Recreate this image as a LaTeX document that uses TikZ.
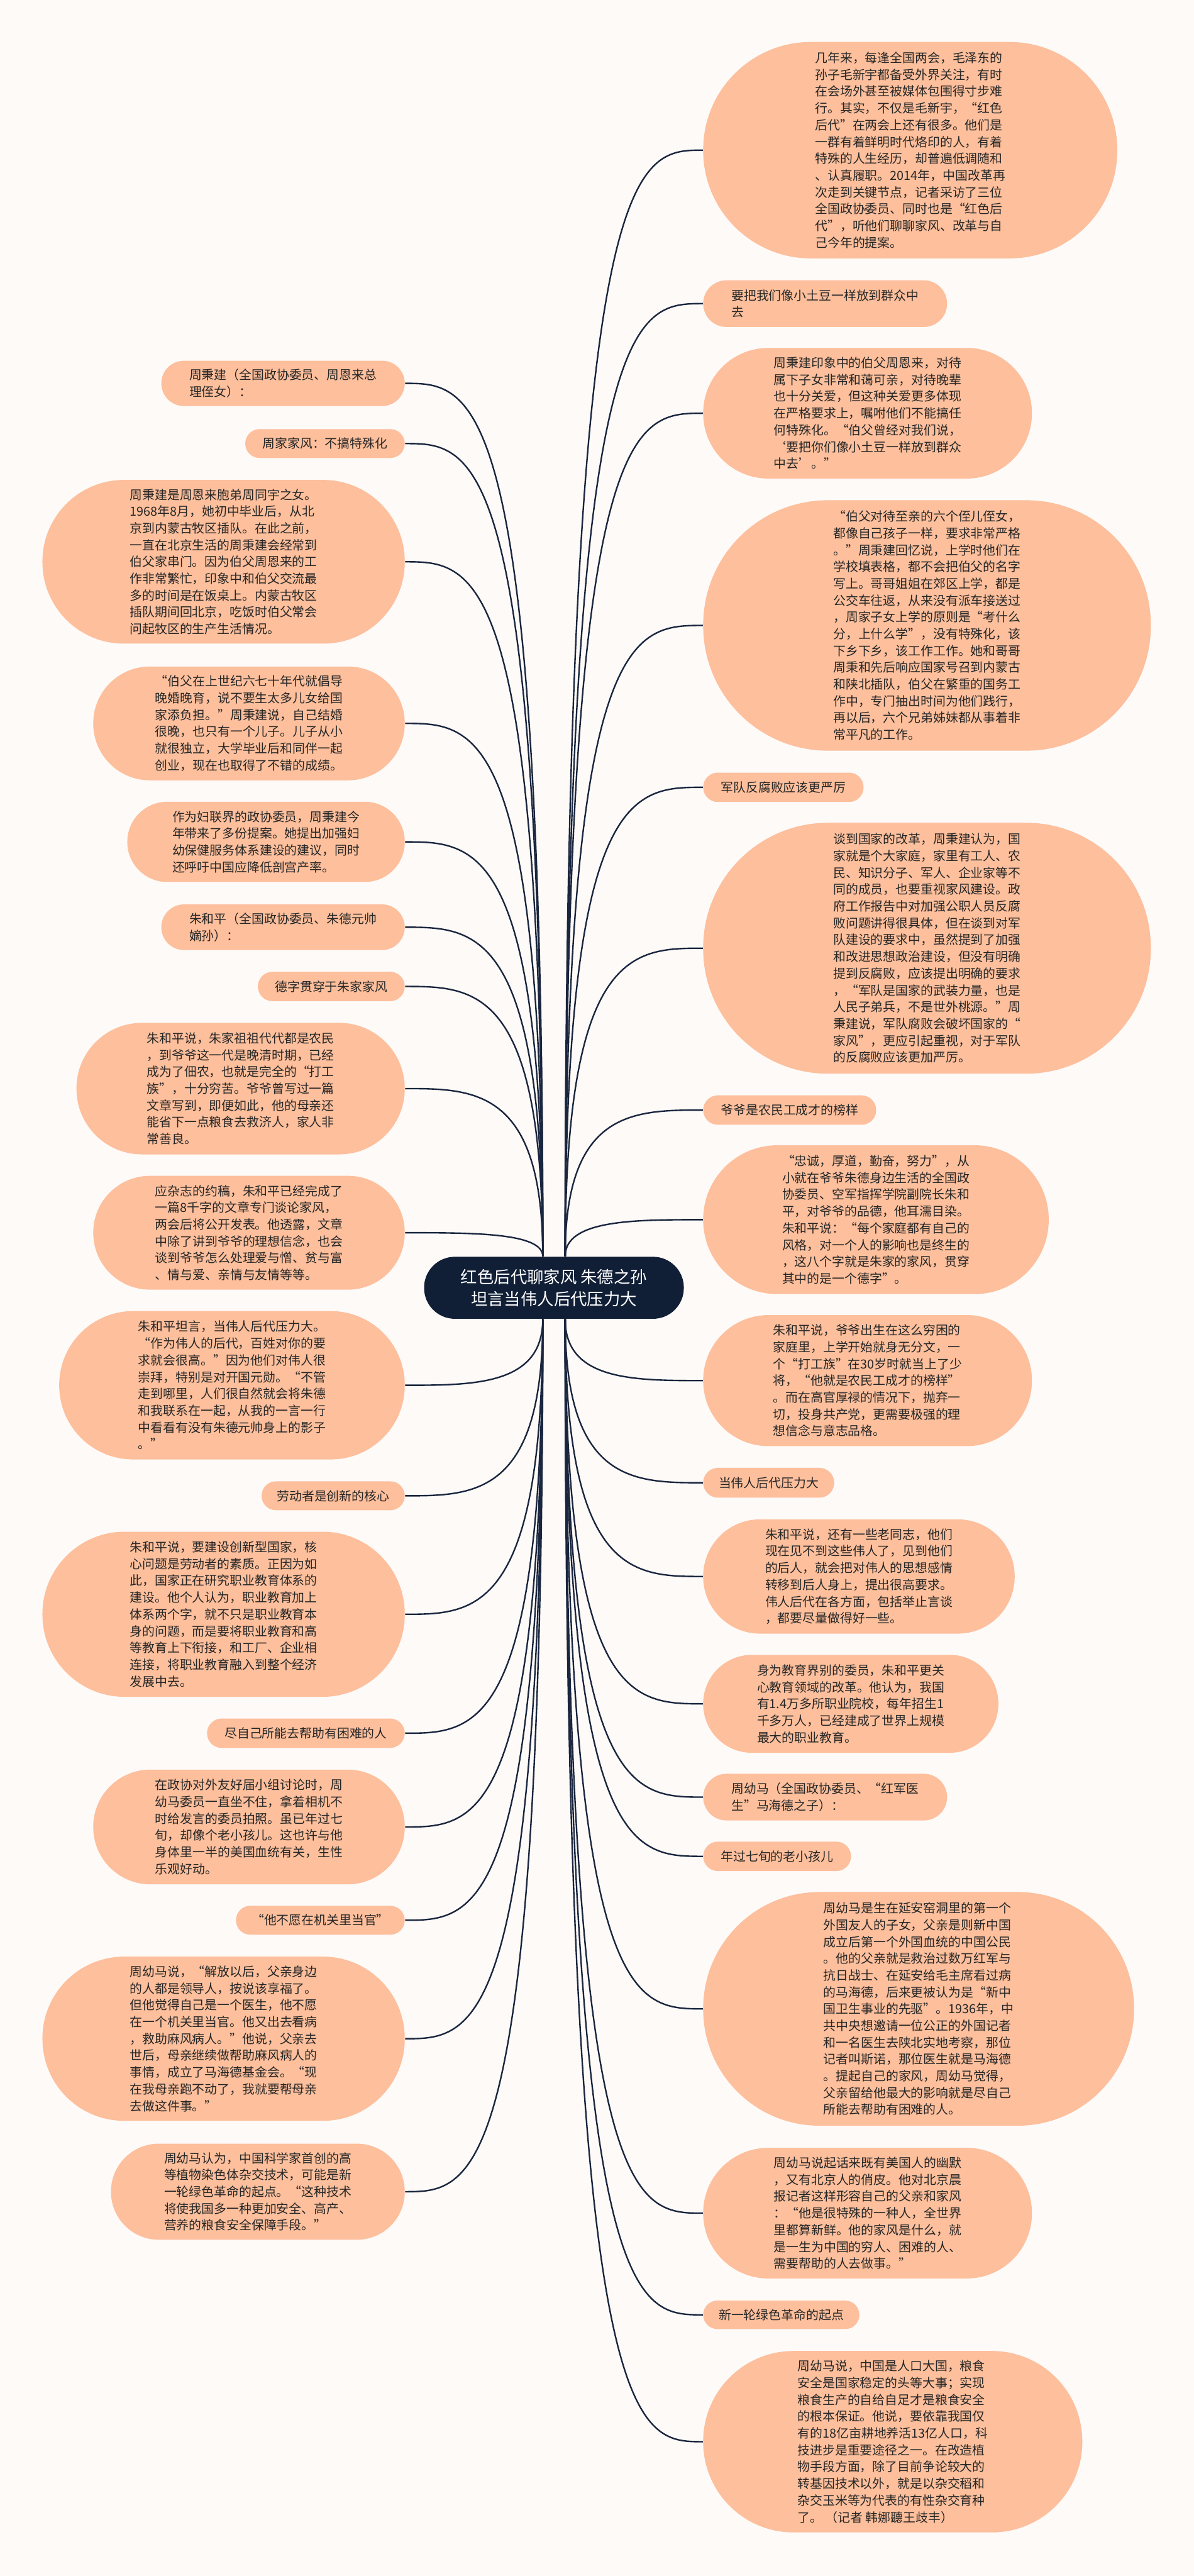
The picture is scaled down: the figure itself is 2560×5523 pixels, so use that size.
\documentclass[tikz,border=0pt]{standalone}
\usepackage{fontspec}
\setmainfont{Noto Sans CJK SC}
\usetikzlibrary{calc}
\definecolor{bg}{RGB}{253,250,248}
\definecolor{peach}{RGB}{253,191,156}
\definecolor{navy}{RGB}{16,30,54}
\definecolor{ink}{RGB}{38,38,38}
\definecolor{conc}{RGB}{26,38,62}
\newcommand\bodyfont{\fontsize{6.7}{9}\selectfont}
\newcommand\titlefont{\fontsize{8.9}{11.75}\selectfont}
\newcommand\linkR[2]{\draw[link] (#1) .. controls (#1 |- #2.west) and ($(#1 |- #2.west)!0.5!(#2.west)$) .. (#2.west);}
\newcommand\linkL[2]{\draw[link] (#1) .. controls (#1 |- #2.east) and ($(#1 |- #2.east)!0.5!(#2.east)$) .. (#2.east);}
\begin{document}
\begin{tikzpicture}[x=0.25pt,y=-0.25pt,
 bub/.style 2 args={rectangle, fill=peach, text=ink, minimum width=#1*0.25pt, minimum height=#2*0.25pt, rounded corners=#2*0.1245pt, inner sep=0pt, align=left, font=\bodyfont},
 link/.style={draw=conc, line width=0.8pt}]
\fill[bg] (0,0) rectangle (2560,5523);
\useasboundingbox (0,0) rectangle (2560,5523);

% centre
\node[rectangle, fill=navy, text=white, minimum width=557*0.25pt, minimum height=133*0.25pt, rounded corners=66*0.25pt, inner sep=0pt, align=center, font=\titlefont] (c) at (1188,2761) {红色后代聊家风 朱德之孙\\坦言当伟人后代压力大};
\coordinate (cTL) at ([xshift=-6pt]c.north);
\coordinate (cTR) at ([xshift=6pt]c.north);
\coordinate (cBL) at ([xshift=-6pt]c.south);
\coordinate (cBR) at ([xshift=6pt]c.south);

% right column
\node[bub={888}{464}] (r1) at (1952,322) {几年来，每逢全国两会，毛泽东的\\孙子毛新宇都备受外界关注，有时\\在会场外甚至被媒体包围得寸步难\\行。其实，不仅是毛新宇，“红色\\后代”在两会上还有很多。他们是\\一群有着鲜明时代烙印的人，有着\\特殊的人生经历，却普遍低调随和\\、认真履职。2014年，中国改革再\\次走到关键节点，记者采访了三位\\全国政协委员、同时也是“红色后\\代”，听他们聊聊家风、改革与自\\己今年的提案。};
\node[bub={523}{100}] (r2) at (1769.5,651) {要把我们像小土豆一样放到群众中\\去};
\node[bub={705}{280}] (r3) at (1860.5,886) {周秉建印象中的伯父周恩来，对待\\属下子女非常和蔼可亲，对待晚辈\\也十分关爱，但这种关爱更多体现\\在严格要求上，嘱咐他们不能搞任\\何特殊化。“伯父曾经对我们说，\\‘要把你们像小土豆一样放到群众\\中去’。”};
\node[bub={960}{537}] (r4) at (1988,1341) {“伯父对待至亲的六个侄儿侄女，\\都像自己孩子一样，要求非常严格\\。”周秉建回忆说，上学时他们在\\学校填表格，都不会把伯父的名字\\写上。哥哥姐姐在郊区上学，都是\\公交车往返，从来没有派车接送过\\，周家子女上学的原则是“考什么\\分，上什么学”，没有特殊化，该\\下乡下乡，该工作工作。她和哥哥\\周秉和先后响应国家号召到内蒙古\\和陕北插队，伯父在繁重的国务工\\作中，专门抽出时间为他们践行，\\再以后，六个兄弟姊妹都从事着非\\常平凡的工作。};
\node[bub={344}{63}] (r5) at (1680,1688) {军队反腐败应该更严厉};
\node[bub={960}{538}] (r6) at (1988,2033) {谈到国家的改革，周秉建认为，国\\家就是个大家庭，家里有工人、农\\民、知识分子、军人、企业家等不\\同的成员，也要重视家风建设。政\\府工作报告中对加强公职人员反腐\\败问题讲得很具体，但在谈到对军\\队建设的要求中，虽然提到了加强\\和改进思想政治建设，但没有明确\\提到反腐败，应该提出明确的要求\\，“军队是国家的武装力量，也是\\人民子弟兵，不是世外桃源。”周\\秉建说，军队腐败会破坏国家的“\\家风”，更应引起重视，对于军队\\的反腐败应该更加严厉。};
\node[bub={371}{63}] (r7) at (1693.5,2380) {爷爷是农民工成才的榜样};
\node[bub={741}{319}] (r8) at (1878.5,2615) {“忠诚，厚道，勤奋，努力”，从\\小就在爷爷朱德身边生活的全国政\\协委员、空军指挥学院副院长朱和\\平，对爷爷的品德，他耳濡目染。\\朱和平说：“每个家庭都有自己的\\风格，对一个人的影响也是终生的\\，这八个字就是朱家的家风，贯穿\\其中的是一个德字”。};
\node[bub={705}{281}] (r9) at (1860.5,2960) {朱和平说，爷爷出生在这么穷困的\\家庭里，上学开始就身无分文，一\\个“打工族”在30岁时就当上了少\\将，“他就是农民工成才的榜样”\\。而在高官厚禄的情况下，抛弃一\\切，投身共产党，更需要极强的理\\想信念与意志品格。};
\node[bub={281}{64}] (r10) at (1648.5,3179) {当伟人后代压力大};
\node[bub={668}{245}] (r11) at (1842,3380) {朱和平说，还有一些老同志，他们\\现在见不到这些伟人了，见到他们\\的后人，就会把对伟人的思想感情\\转移到后人身上，提出很高要求。\\伟人后代在各方面，包括举止言谈\\，都要尽量做得好一些。};
\node[bub={633}{210}] (r12) at (1824.5,3653) {身为教育界别的委员，朱和平更关\\心教育领域的改革。他认为，我国\\有1.4万多所职业院校，每年招生1\\千多万人，已经建成了世界上规模\\最大的职业教育。};
\node[bub={523}{100}] (r13) at (1769.5,3853) {周幼马（全国政协委员、“红军医\\生”马海德之子）：};
\node[bub={317}{63}] (r14) at (1666.5,3980) {年过七旬的老小孩儿};
\node[bub={924}{501}] (r15) at (1970,4307) {周幼马是生在延安窑洞里的第一个\\外国友人的子女，父亲是则新中国\\成立后第一个外国血统的中国公民\\。他的父亲就是救治过数万红军与\\抗日战士、在延安给毛主席看过病\\的马海德，后来更被认为是“新中\\国卫生事业的先驱”。1936年，中\\共中央想邀请一位公正的外国记者\\和一名医生去陕北实地考察，那位\\记者叫斯诺，那位医生就是马海德\\。提起自己的家风，周幼马觉得，\\父亲留给他最大的影响就是尽自己\\所能去帮助有困难的人。};
\node[bub={705}{280}] (r16) at (1860.5,4745) {周幼马说起话来既有美国人的幽默\\，又有北京人的俏皮。他对北京晨\\报记者这样形容自己的父亲和家风\\：“他是很特殊的一种人，全世界\\里都算新鲜。他的家风是什么，就\\是一生为中国的穷人、困难的人、\\需要帮助的人去做事。”};
\node[bub={335}{61}] (r17) at (1675.5,4963) {新一轮绿色革命的起点};
\node[bub={813}{389}] (r18) at (1914.5,5235) {周幼马说，中国是人口大国，粮食\\安全是国家稳定的头等大事；实现\\粮食生产的自给自足才是粮食安全\\的根本保证。他说，要依靠我国仅\\有的18亿亩耕地养活13亿人口，科\\技进步是重要途径之一。在改造植\\物手段方面，除了目前争论较大的\\转基因技术以外，就是以杂交稻和\\杂交玉米等为代表的有性杂交育种\\了。 （记者 韩娜聽王歧丰）};

% left column
\node[bub={522}{97}] (l1) at (607,822) {周秉建（全国政协委员、周恩来总\\理侄女）：};
\node[bub={342}{62}] (l2) at (697,951) {周家家风：不搞特殊化};
\node[bub={777}{351}] (l3) at (479.5,1204.5) {周秉建是周恩来胞弟周同宇之女。\\1968年8月，她初中毕业后，从北\\京到内蒙古牧区插队。在此之前，\\一直在北京生活的周秉建会经常到\\伯父家串门。因为伯父周恩来的工\\作非常繁忙，印象中和伯父交流最\\多的时间是在饭桌上。内蒙古牧区\\插队期间回北京，吃饭时伯父常会\\问起牧区的生产生活情况。};
\node[bub={668}{244}] (l4) at (534,1551) {“伯父在上世纪六七十年代就倡导\\晚婚晚育，说不要生太多儿女给国\\家添负担。”周秉建说，自己结婚\\很晚，也只有一个儿子。儿子从小\\就很独立，大学毕业后和同伴一起\\创业，现在也取得了不错的成绩。};
\node[bub={595}{172}] (l5) at (570.5,1805) {作为妇联界的政协委员，周秉建今\\年带来了多份提案。她提出加强妇\\幼保健服务体系建设的建议，同时\\还呼吁中国应降低剖宫产率。};
\node[bub={522}{98}] (l6) at (607,1988) {朱和平（全国政协委员、朱德元帅\\嫡孙）：};
\node[bub={315}{63}] (l7) at (710.5,2115) {德字贯穿于朱家家风};
\node[bub={704}{282}] (l8) at (516,2334) {朱和平说，朱家祖祖代代都是农民\\，到爷爷这一代是晚清时期，已经\\成为了佃农，也就是完全的“打工\\族”，十分穷苦。爷爷曾写过一篇\\文章写到，即便如此，他的母亲还\\能省下一点粮食去救济人，家人非\\常善良。};
\node[bub={668}{244}] (l9) at (534,2643) {应杂志的约稿，朱和平已经完成了\\一篇8千字的文章专门谈论家风，\\两会后将公开发表。他透露，文章\\中除了讲到爷爷的理想信念，也会\\谈到爷爷怎么处理爱与憎、贫与富\\、情与爱、亲情与友情等等。};
\node[bub={741}{318}] (l10) at (497.5,2970) {朱和平坦言，当伟人后代压力大。\\“作为伟人的后代，百姓对你的要\\求就会很高。”因为他们对伟人很\\崇拜，特别是对开国元勋。“不管\\走到哪里，人们很自然就会将朱德\\和我联系在一起，从我的一言一行\\中看看有没有朱德元帅身上的影子\\。”};
\node[bub={307}{62}] (l11) at (714.5,3207) {劳动者是创新的核心};
\node[bub={777}{354}] (l12) at (479.5,3461) {朱和平说，要建设创新型国家，核\\心问题是劳动者的素质。正因为如\\此，国家正在研究职业教育体系的\\建设。他个人认为，职业教育加上\\体系两个字，就不只是职业教育本\\身的问题，而是要将职业教育和高\\等教育上下衔接，和工厂、企业相\\连接，将职业教育融入到整个经济\\发展中去。};
\node[bub={424}{63}] (l13) at (656,3716) {尽自己所能去帮助有困难的人};
\node[bub={668}{246}] (l14) at (534,3917) {在政协对外友好届小组讨论时，周\\幼马委员一直坐不住，拿着相机不\\时给发言的委员拍照。虽已年过七\\旬，却像个老小孩儿。这也许与他\\身体里一半的美国血统有关，生性\\乐观好动。};
\node[bub={362}{62}] (l15) at (687,4117) {“他不愿在机关里当官”};
\node[bub={777}{352}] (l16) at (479.5,4371) {周幼马说，“解放以后，父亲身边\\的人都是领导人，按说该享福了。\\但他觉得自己是一个医生，他不愿\\在一个机关里当官。他又出去看病\\，救助麻风病人。”他说，父亲去\\世后，母亲继续做帮助麻风病人的\\事情，成立了马海德基金会。“现\\在我母亲跑不动了，我就要帮母亲\\去做这件事。”};
\node[bub={630}{206}] (l17) at (553,4699) {周幼马认为，中国科学家首创的高\\等植物染色体杂交技术，可能是新\\一轮绿色革命的起点。“这种技术\\将使我国多一种更加安全、高产、\\营养的粮食安全保障手段。”};

% connectors
\foreach \n in {r1,r2,r3,r4,r5,r6,r7,r8} {\linkR{cTR}{\n}}
\foreach \n in {r9,r10,r11,r12,r13,r14,r15,r16,r17,r18} {\linkR{cBR}{\n}}
\foreach \n in {l1,l2,l3,l4,l5,l6,l7,l8,l9} {\linkL{cTL}{\n}}
\foreach \n in {l10,l11,l12,l13,l14,l15,l16,l17} {\linkL{cBL}{\n}}
\end{tikzpicture}
\end{document}
